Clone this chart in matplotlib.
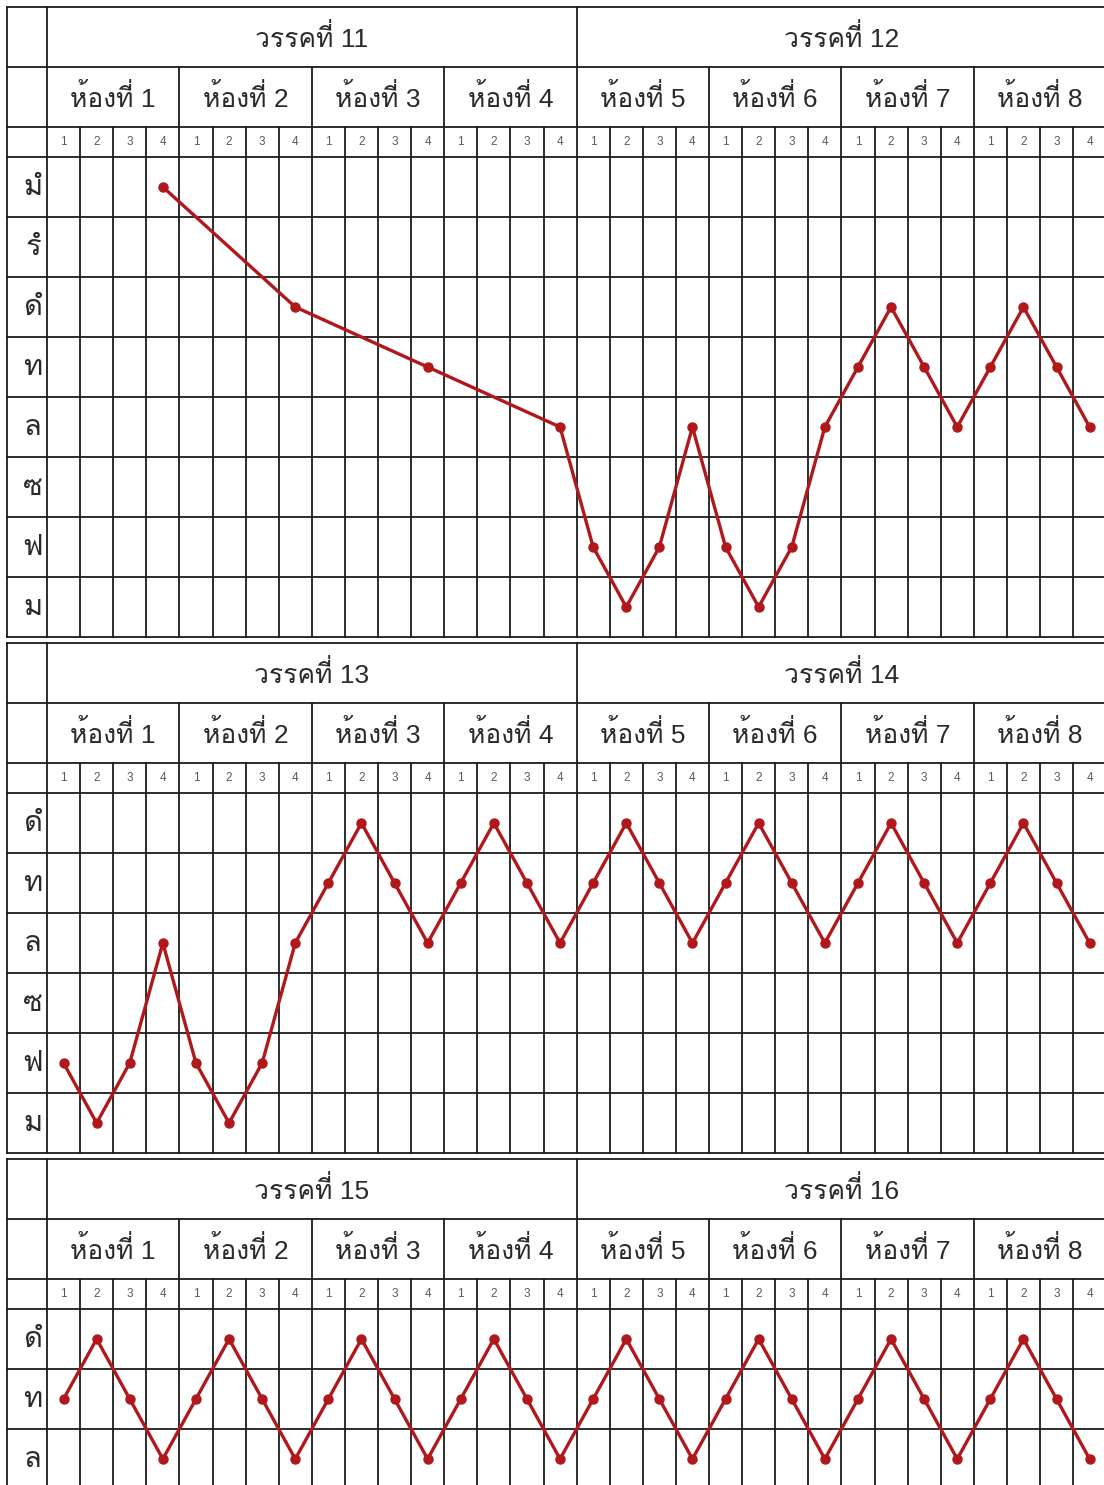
import matplotlib
matplotlib.use("Agg")
import matplotlib.pyplot as plt

plt.rcParams['font.family'] = ['Liberation Sans', 'Loma', 'DejaVu Sans']

# ---- data -------------------------------------------------------------
phrases = [('วรรคที่ 11', 'วรรคที่ 12'),
           ('วรรคที่ 13', 'วรรคที่ 14'),
           ('วรรคที่ 15', 'วรรคที่ 16')]
rooms = ['ห้องที่ 1', 'ห้องที่ 2', 'ห้องที่ 3', 'ห้องที่ 4',
         'ห้องที่ 5', 'ห้องที่ 6', 'ห้องที่ 7', 'ห้องที่ 8']
beats = ['1', '2', '3', '4']

rows1 = ['มํ', 'รํ', 'ดํ', 'ท', 'ล', 'ซ', 'ฟ', 'ม']
rows2 = ['ดํ', 'ท', 'ล', 'ซ', 'ฟ', 'ม']
rows3 = ['ดํ', 'ท', 'ล']

notes1 = ['-', '-', '-', 'มํ',  '-', '-', '-', 'ดํ',  '-', '-', '-', 'ท',  '-', '-', '-', 'ล',
          'ฟ', 'ม', 'ฟ', 'ล',  'ฟ', 'ม', 'ฟ', 'ล',  'ท', 'ดํ', 'ท', 'ล',  'ท', 'ดํ', 'ท', 'ล']
notes2 = ['ฟ', 'ม', 'ฟ', 'ล',  'ฟ', 'ม', 'ฟ', 'ล',  'ท', 'ดํ', 'ท', 'ล',  'ท', 'ดํ', 'ท', 'ล',
          'ท', 'ดํ', 'ท', 'ล',  'ท', 'ดํ', 'ท', 'ล',  'ท', 'ดํ', 'ท', 'ล',  'ท', 'ดํ', 'ท', 'ล']
notes3 = ['ท', 'ดํ', 'ท', 'ล',  'ท', 'ดํ', 'ท', 'ล',  'ท', 'ดํ', 'ท', 'ล',  'ท', 'ดํ', 'ท', 'ล',
          'ท', 'ดํ', 'ท', 'ล',  'ท', 'ดํ', 'ท', 'ล',  'ท', 'ดํ', 'ท', 'ล',  'ท', 'ดํ', 'ท', 'ล']

panels = [(rows1, notes1), (rows2, notes2), (rows3, notes3)]

# ---- layout (pixels) --------------------------------------------------
W, H = 1104, 1485
left_px = 7
label_px = 40
beat_px = 33.1
row_px = 60
panel_tops = [7, 643, 1159]

grid_c = '#1c1c1c'
text_c = '#2a2a2a'
line_c = '#b0181c'
glw = 1.3

fig = plt.figure(figsize=(W / 100, H / 100), dpi=100)

label_w = label_px / beat_px
nbeats = len(rooms) * len(beats)

for (rows, notes), (ph_a, ph_b), top in zip(panels, phrases, panel_tops):
    total = 2.5 + len(rows)
    width_px = label_px + nbeats * beat_px
    ax = fig.add_axes([left_px / W, 1 - (top + total * row_px) / H,
                       width_px / W, total * row_px / H])
    ax.set_xlim(-label_w, nbeats)
    ax.set_ylim(total, 0)
    ax.axis('off')

    # horizontal lines
    for y in [0, 1, 2, 2.5] + [2.5 + k for k in range(1, len(rows) + 1)]:
        ax.plot([-label_w, nbeats], [y, y], color=grid_c, lw=glw,
                solid_capstyle='projecting', clip_on=False)
    # vertical lines
    ax.plot([-label_w, -label_w], [0, total], color=grid_c, lw=glw, clip_on=False)
    for x in range(0, nbeats + 1):
        if x % 16 == 0:
            y0 = 0
        elif x % 4 == 0:
            y0 = 1
        else:
            y0 = 2
        ax.plot([x, x], [y0, total], color=grid_c, lw=glw, clip_on=False)

    # headers
    ax.text(nbeats / 4, 0.52, ph_a, ha='center', va='center', fontsize=19, color=text_c)
    ax.text(3 * nbeats / 4, 0.52, ph_b, ha='center', va='center', fontsize=19, color=text_c)
    for i, r in enumerate(rooms):
        ax.text(i * 4 + 2, 1.52, r, ha='center', va='center', fontsize=19, color=text_c)
    for i in range(nbeats):
        ax.text(i + 0.5, 2.25, beats[i % 4], ha='center', va='center',
                fontsize=8.5, color='#5a5a5a')
    for k, r in enumerate(rows):
        ax.text(-label_w * 0.35, 3 + k, r, ha='center', va='center', fontsize=21, color=text_c)

    # melody line
    xs = [i + 0.5 for i, n in enumerate(notes) if n != '-']
    ys = [3 + rows.index(n) for n in notes if n != '-']
    ax.plot(xs, ys, color=line_c, lw=2.4, marker='o', markersize=6.5, zorder=5,
            clip_on=False)

fig.savefig('out.png', dpi=100)
